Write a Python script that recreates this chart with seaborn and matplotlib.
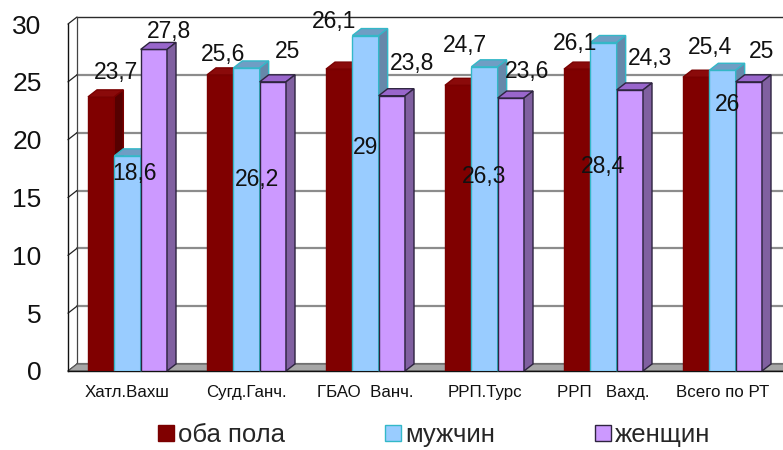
import numpy as np
import pandas as pd
import matplotlib
matplotlib.use("Agg")
import matplotlib.pyplot as plt
import seaborn as sns
from matplotlib.patches import Polygon, Patch

# ---- data -------------------------------------------------------------
categories = ["Хатл.Вахш", "Сугд.Ганч.", "ГБАО  Ванч.", "РРП.Турс", "РРП   Вахд.", "Всего по РТ"]
series = ["оба пола", "мужчин", "женщин"]
both_sexes = [23.7, 25.6, 26.1, 24.7, 26.1, 25.4]
men = [18.6, 26.2, 29.0, 26.3, 28.4, 26.0]
women = [27.8, 25.0, 23.8, 23.6, 24.3, 25.0]
y_ticks = [0, 5, 10, 15, 20, 25, 30]

# ---- styling ----------------------------------------------------------
front_colors = {"оба пола": "#800000", "мужчин": "#99ccff", "женщин": "#cc99ff"}
top_colors = {"оба пола": "#8a0a0a", "мужчин": "#6f9ec4", "женщин": "#9966cc"}
side_colors = {"оба пола": "#560000", "мужчин": "#6688aa", "женщин": "#8060a0"}
edge_colors = {"оба пола": "#7a0000", "мужчин": "#33b8c8", "женщин": "#2e2440"}

# value-label offsets (pixels) from the top centre of each bar's front face
label_offsets = {
    "оба пола": [(15, 24), (3, 20), (-5, 48), (7, 40), (-2, 26), (14, 30)],
    "мужчин": [(7, -18), (10, -112), (0, -112), (0, -110), (0, -124), (5, -34)],
    "женщин": [(15, 18), (15, 30), (20, 32), (16, 27), (20, 31), (13, 30)],
}

sns.set_style("white")
plt.rcParams["font.family"] = ["Liberation Sans", "DejaVu Sans"]

W, H, DPI = 783, 450, 100
fig = plt.figure(figsize=(W / DPI, H / DPI), dpi=DPI)
ax_left, ax_right, ax_top, ax_bottom = 68, 782, 24, 371
ax = fig.add_axes([ax_left / W, (H - ax_bottom) / H,
                   (ax_right - ax_left) / W, (ax_bottom - ax_top) / H])

df = pd.DataFrame({
    "region": categories * 3,
    "series": np.repeat(series, len(categories)),
    "value": both_sexes + men + women,
})
values = {"оба пола": both_sexes, "мужчин": men, "женщин": women}

sns.barplot(data=df, x="region", y="value", hue="series", order=categories,
            hue_order=series, palette=front_colors, saturation=1,
            width=0.664, gap=0, legend=False, ax=ax)

ax.set_xlim(-0.5, len(categories) - 0.5)
ax.set_ylim(0, 30)

# depth of the pseudo-3D extrusion, in data units
DEPTH_PX_X, DEPTH_PX_Y = 9, 7
dx = DEPTH_PX_X * (len(categories)) / (ax_right - ax_left)
dy = DEPTH_PX_Y * 30 / (ax_bottom - ax_top)
x_lo, x_hi = -0.5, len(categories) - 0.5

# back wall grid, floor and connecting ticks
for t in y_ticks:
    ax.plot([x_lo + dx, x_hi + dx + 1], [t + dy, t + dy],
            color="#2b2b2b" if t == y_ticks[-1] else "#8c8c8c",
            lw=1.0 if t == y_ticks[-1] else 1.6, clip_on=False, zorder=0.3)
    ax.plot([x_lo, x_lo + dx], [t, t + dy], color="#222222", lw=0.9,
            clip_on=False, zorder=0.4)
ax.plot([x_lo + dx, x_lo + dx], [dy, 30 + dy], color="#444444", lw=0.9,
        clip_on=False, zorder=0.4)
floor = Polygon([(x_lo, 0), (x_hi + 1, 0), (x_hi + 1 + dx, dy), (x_lo + dx, dy)],
                closed=True, facecolor="#a6a6a6", edgecolor="#5a5a5a", lw=0.8,
                clip_on=False, zorder=0.5)
ax.add_patch(floor)

# extrude each bar: top and right faces, ordered left to right
for s, cont in zip(series, ax.containers):
    for bar in cont:
        x0 = bar.get_x()
        w = bar.get_width()
        h = bar.get_height()
        x1 = x0 + w
        z = 2 + x0
        bar.set_edgecolor(edge_colors[s])
        bar.set_linewidth(1.0)
        bar.set_zorder(z)
        top = Polygon([(x0, h), (x1, h), (x1 + dx, h + dy), (x0 + dx, h + dy)],
                      closed=True, facecolor=top_colors[s], edgecolor=edge_colors[s],
                      lw=1.0, zorder=z, clip_on=False)
        side = Polygon([(x1, 0), (x1, h), (x1 + dx, h + dy), (x1 + dx, dy)],
                       closed=True, facecolor=side_colors[s], edgecolor=edge_colors[s],
                       lw=1.0, zorder=z, clip_on=False)
        ax.add_patch(top)
        ax.add_patch(side)

# value labels with comma decimal separator
for s, cont in zip(series, ax.containers):
    for bar, v, (ox, oy) in zip(cont, values[s], label_offsets[s]):
        txt = f"{v:g}".replace(".", ",")
        ax.annotate(txt, (bar.get_x() + bar.get_width() / 2, bar.get_height()),
                    xytext=(ox, oy), textcoords="offset pixels",
                    ha="center", va="center", fontsize=16.5, color="#111111",
                    zorder=50, annotation_clip=False)

# axes frame and ticks
for side_name in ("top", "right"):
    ax.spines[side_name].set_visible(False)
for side_name in ("left", "bottom"):
    ax.spines[side_name].set_color("#111111")
    ax.spines[side_name].set_linewidth(1.0)
    ax.spines[side_name].set_zorder(0.6)

ax.set_yticks(y_ticks)
ax.set_yticklabels([str(t) for t in y_ticks])
ax.tick_params(axis="y", direction="out", length=7, width=1, labelsize=19,
               pad=12, colors="#111111")
ax.set_xticks(range(len(categories)))
ax.set_xticklabels(categories, fontsize=12.2, color="#111111")
ax.set_xticks(np.arange(len(categories) + 1) - 0.5, minor=True)
ax.tick_params(axis="x", which="major", length=0, pad=10)
ax.tick_params(axis="x", which="minor", length=5, width=1, color="#111111")
ax.set_xlabel("")
ax.set_ylabel("")

handles = [Patch(facecolor=front_colors[s], edgecolor=edge_colors[s], lw=1.0, label=s)
           for s in series]
fig.legend(handles=handles, loc="center", bbox_to_anchor=(434 / W, 1 - 435 / H),
           ncol=3, frameon=False, handlelength=0.62, handleheight=0.62,
           handletextpad=0.15, columnspacing=3.9, borderaxespad=0,
           borderpad=0, prop={"size": 18.5})

fig.savefig("out.png", dpi=DPI)
